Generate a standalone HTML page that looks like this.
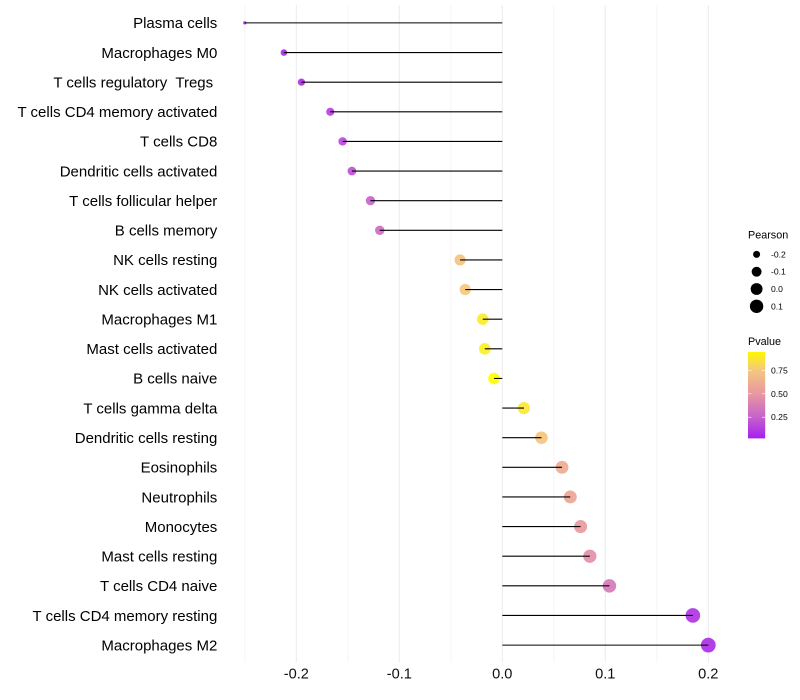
<!DOCTYPE html>
<html lang="en">
<head>
<meta charset="utf-8">
<title>Immune cell correlation lollipop chart</title>
<style>
html,body{margin:0;padding:0;background:#fff;width:800px;height:700px;overflow:hidden}
svg{display:block}
text{font-family:"Liberation Sans",sans-serif;white-space:pre}
</style>
</head>
<body>
<svg id="chart" xmlns="http://www.w3.org/2000/svg" width="800" height="700" viewBox="0 0 800 700">
<defs>
<linearGradient id="pvalue-gradient" x1="0" y1="1" x2="0" y2="0">
<stop offset="0" stop-color="#a51ff0"/>
<stop offset="0.244" stop-color="#c662cc"/>
<stop offset="0.518" stop-color="#e898a0"/>
<stop offset="0.792" stop-color="#f5c87d"/>
<stop offset="1" stop-color="#fff700"/>
</linearGradient>
</defs>
<g id="grid"></g>
<g id="points"></g>
<g id="lines"></g>
<g id="ylabels"></g>
<g id="xlabels"></g>
<g id="size-legend">
<text x="748" y="238.5" font-size="10.8" fill="#000">Pearson</text>
</g>
<g id="color-legend">
<text x="748" y="345" font-size="10.8" fill="#000">Pvalue</text>
<rect x="748" y="352" width="17.2" height="86.4" fill="url(#pvalue-gradient)"/>
</g>
</svg>
<script>
const categories = ["Plasma cells","Macrophages M0","T cells regulatory  Tregs ","T cells CD4 memory activated","T cells CD8","Dendritic cells activated","T cells follicular helper","B cells memory","NK cells resting","NK cells activated","Macrophages M1","Mast cells activated","B cells naive","T cells gamma delta","Dendritic cells resting","Eosinophils","Neutrophils","Monocytes","Mast cells resting","T cells CD4 naive","T cells CD4 memory resting","Macrophages M2"];
const pearsonValues = [-0.250,-0.212,-0.195,-0.167,-0.155,-0.146,-0.128,-0.119,-0.041,-0.036,-0.019,-0.017,-0.008,0.021,0.038,0.058,0.066,0.076,0.085,0.104,0.185,0.200];
const pValues = [0.027,0.06,0.085,0.14,0.175,0.20,0.26,0.30,0.72,0.75,0.875,0.89,0.94,0.86,0.74,0.61,0.57,0.51,0.46,0.36,0.10,0.08];
const xMajorTicks = [-0.2,-0.1,0.0,0.1,0.2];
const xMinorTicks = [-0.25,-0.15,-0.05,0.05,0.15];
const sizeLegendValues = [-0.2,-0.1,0.0,0.1];
const colorLegendValues = [0.25,0.5,0.75];

const NS = "http://www.w3.org/2000/svg";
const xScale = v => 502.3 + v * 1030;
const yScale = i => 22.9 + i * (622.2 / 21);
const minPearson = Math.min(...pearsonValues);
const maxPearson = Math.max(...pearsonValues);
const radius = v => 1.6 + 5.8 * Math.sqrt(Math.max(0, v - minPearson) / (maxPearson - minPearson));
const pToY = p => 417.2 - (p - 0.25) * 93.6;
const colorStops = [[0.027,[165,31,240]],[0.25,[198,98,204]],[0.5,[232,152,160]],[0.75,[245,200,125]],[0.94,[255,255,0]]];
function pColor(p){
  for(let k=0;k<colorStops.length-1;k++){
    const a=colorStops[k],b=colorStops[k+1];
    if(p<=b[0]){
      const t=Math.max(0,(p-a[0])/(b[0]-a[0]));
      return "rgb("+a[1].map((c,j)=>Math.round(c+(b[1][j]-c)*t)).join(",")+")";
    }
  }
  return "rgb(255,255,0)";
}
function mk(parent,tag,attrs){
  const el=document.createElementNS(NS,tag);
  for(const k in attrs) el.setAttribute(k,attrs[k]);
  document.getElementById(parent).appendChild(el);
  return el;
}

xMinorTicks.forEach(v=>{
  const l=mk("grid","line",{x1:xScale(v),x2:xScale(v),y1:5,y2:662.5,stroke:"#f2f2f2","stroke-width":0.8});
  
  
});
xMajorTicks.forEach(v=>{
  const l=mk("grid","line",{x1:xScale(v),x2:xScale(v),y1:5,y2:662.5,stroke:"#ebebeb","stroke-width":1});
  
  
  const t=mk("xlabels","text",{x:xScale(v),y:678.5,"text-anchor":"middle","font-size":14.6,fill:"#111"});
  
  
  t.textContent=v.toFixed(1);
});
categories.forEach((c,i)=>{
  const y=yScale(i),v=pearsonValues[i];
  const p=mk("points","circle",{cx:xScale(v),cy:y,r:radius(v),fill:pColor(pValues[i]),"fill-opacity":0.92});
  
  
  const s=mk("lines","line",{x1:xScale(0),x2:xScale(v),y1:y,y2:y,stroke:"#000","stroke-width":1.07});
  
  
  const t=mk("ylabels","text",{x:217.3,y:y+5.3,"text-anchor":"end","font-size":15,fill:"#000"});
  
  
  t.textContent=c;
});
sizeLegendValues.forEach((v,i)=>{
  const y=254.4+i*17.3;
  const d=mk("size-legend","circle",{cx:756.6,cy:y,r:radius(v),fill:"#000"});
  
  
  const t=mk("size-legend","text",{x:771,y:y+3,"font-size":8.6,fill:"#000"});
  
  
  t.textContent=v.toFixed(1);
});
colorLegendValues.forEach(v=>{
  const y=pToY(v);
  const a=mk("color-legend","line",{x1:748,x2:751.4,y1:y,y2:y,stroke:"#fff","stroke-width":0.6});
  
  
  const b=mk("color-legend","line",{x1:761.8,x2:765.2,y1:y,y2:y,stroke:"#fff","stroke-width":0.6});
  
  
  const t=mk("color-legend","text",{x:771,y:y+3,"font-size":8.6,fill:"#000"});
  
  
  t.textContent=v.toFixed(2);
});
</script>
</body>
</html>
